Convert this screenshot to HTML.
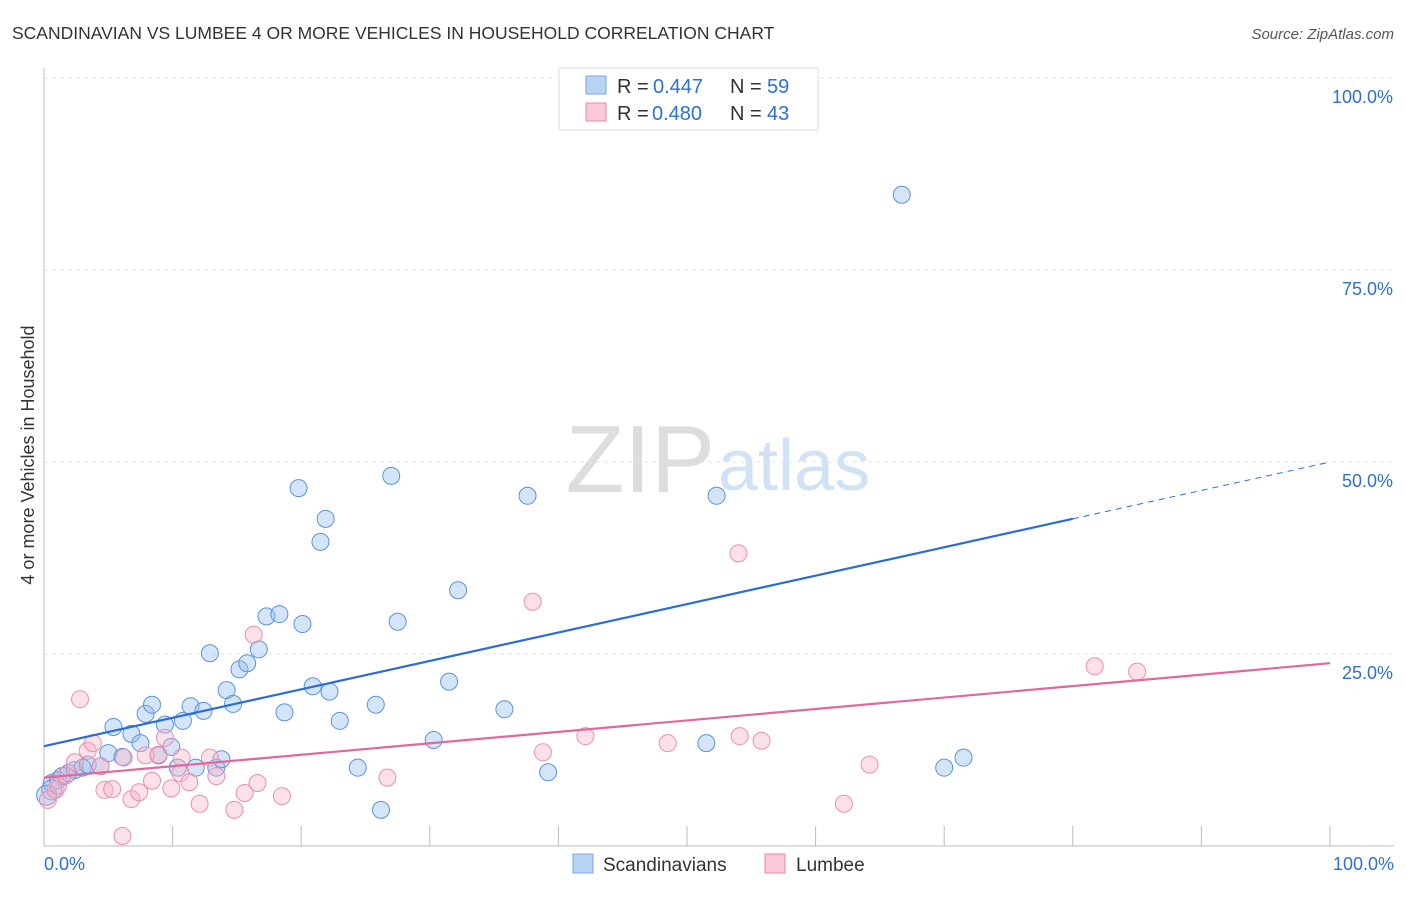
<!DOCTYPE html>
<html><head><meta charset="utf-8"><style>
body{margin:0;background:#fff;font-family:"Liberation Sans",sans-serif;}
svg text{font-family:"Liberation Sans",sans-serif;}
</style></head><body>
<svg id="chart" width="1406" height="892" viewBox="0 0 1406 892" xmlns="http://www.w3.org/2000/svg">
<text x="12" y="39" font-size="17.5" fill="#333">SCANDINAVIAN VS LUMBEE 4 OR MORE VEHICLES IN HOUSEHOLD CORRELATION CHART</text>
<text x="1394" y="39" font-size="15" fill="#555" font-style="italic" text-anchor="end">Source: ZipAtlas.com</text>
<text x="34" y="455" font-size="18" fill="#333" text-anchor="middle" transform="rotate(-90 34 455)">4 or more Vehicles in Household</text>
<text x="715" y="492" font-size="96" fill="#ddd" text-anchor="end" font-family="Liberation Serif">ZIP</text>
<text x="718" y="490" font-size="72" fill="#d2e2f5">atlas</text>
<g id="grid"></g>
<g id="pts"></g>
<g id="lines"></g>
<g>
<rect x="559" y="68" width="259" height="62" fill="#fff" stroke="#ddd"/>
<rect x="586" y="76" width="20" height="18" fill="#b9d3f5" stroke="#7aa7e0"/>
<text x="617" y="93" font-size="20" fill="#333">R =</text>
<text x="653" y="93" font-size="20" fill="#2f6fd6">0.447</text>
<text x="730" y="93" font-size="20" fill="#333">N =</text>
<text x="767" y="93" font-size="20" fill="#2f6fd6">59</text>
<rect x="586" y="103" width="20" height="18" fill="#fac8d8" stroke="#e889a8"/>
<text x="617" y="120" font-size="20" fill="#333">R =</text>
<text x="652" y="120" font-size="20" fill="#2f6fd6">0.480</text>
<text x="730" y="120" font-size="20" fill="#333">N =</text>
<text x="767" y="120" font-size="20" fill="#2f6fd6">43</text>
</g>
<g>
<rect x="573" y="854" width="20" height="19" fill="#b9d3f5" stroke="#7aa7e0"/>
<text x="603" y="871" font-size="19" fill="#333">Scandinavians</text>
<rect x="765" y="854" width="20" height="19" fill="#fac8d8" stroke="#e889a8"/>
<text x="796" y="871" font-size="19" fill="#333">Lumbee</text>
</g>
</svg>
<script>
const yTicks=[25,50,75,100];
const yTickLabels=["25.0%","50.0%","75.0%","100.0%"];
const xEndLabels=["0.0%","100.0%"];
const blueX=[0.6,1.1,1.4,1.9,2.4,3.0,3.4,4.4,5.0,5.4,6.1,6.8,7.5,7.9,8.4,8.9,9.4,9.9,10.4,10.8,11.4,11.8,12.4,12.9,13.4,13.8,14.2,14.7,15.2,15.8,16.7,17.3,18.3,18.7,19.8,20.1,20.9,21.5,21.9,22.2,23.0,24.4,25.8,26.2,27.0,27.5,30.3,31.5,32.2,35.8,37.6,39.2,51.5,52.3,66.7,70.0,71.5,0.6,0.2];
const blueY=[8.2,8.6,9.1,9.5,9.9,10.2,10.6,10.4,12.1,15.5,11.6,14.6,13.4,17.2,18.4,11.8,15.8,12.9,10.2,16.3,18.2,10.2,17.6,25.1,10.2,11.3,20.3,18.5,23.0,23.8,25.6,29.9,30.2,17.4,46.6,28.9,20.8,39.6,42.6,20.1,16.3,10.2,18.4,4.7,48.2,29.2,13.8,21.4,33.3,17.8,45.6,9.6,13.4,45.6,84.8,10.2,11.5,7.3,6.6];
const pinkX=[0.3,0.9,2.8,3.4,3.8,4.4,4.7,5.3,6.2,6.1,6.8,7.4,7.9,8.4,8.9,9.4,9.9,10.6,10.7,11.3,12.1,12.9,13.4,14.8,15.6,16.3,16.6,18.5,26.7,38.0,38.8,42.1,48.5,54.0,54.1,55.8,62.2,64.2,81.7,85.0,1.1,1.7,2.4];
const pinkY=[6.0,7.3,19.1,12.4,13.4,10.4,7.3,7.4,11.5,1.3,6.1,7.0,11.8,8.5,11.9,14.1,7.5,9.5,11.5,8.3,5.5,11.5,9.1,4.7,6.9,27.5,8.2,6.5,8.9,31.8,12.2,14.3,13.4,38.1,14.3,13.7,5.5,10.6,23.4,22.7,7.9,9.2,10.9];
const blueFit=[13.0,50.0], pinkFit=[8.9,23.8];
const X0=44,X1=1330,Y0=846,Y1=78;
const sx=v=>X0+(X1-X0)*v/100, sy=v=>Y0-(Y0-Y1)*v/100;
const NS="http://www.w3.org/2000/svg";
function mk(tag,attrs,parent){const e=document.createElementNS(NS,tag);for(const k in attrs)e.setAttribute(k,attrs[k]);parent.appendChild(e);return e;}
const grid=document.getElementById('grid');
let ax=mk('line',{x1:X0,y1:68,x2:X0,y2:Y0,stroke:'#bbb'},grid);


let bx=mk('line',{x1:X0,y1:Y0,x2:1394,y2:Y0,stroke:'#bbb'},grid);


yTicks.forEach((t,i)=>{
 const g=mk('line',{x1:X0,y1:sy(t),x2:1394,y2:sy(t),stroke:'#e4e4e4','stroke-dasharray':'4,4'},grid);
 
 
 const tx=mk('text',{x:1393,y:sy(t)+25,'font-size':18,fill:'#2f6fd6','text-anchor':'end'},grid);tx.textContent=yTickLabels[i];
 
 
});
for(let i=1;i<=10;i++){const v=i*10;const l=mk('line',{x1:sx(v),y1:826,x2:sx(v),y2:Y0,stroke:'#bbb'},grid);
 
 }
[[0,'start',44],[1,'end',1394]].forEach(([i,a,x])=>{const t=mk('text',{x:x,y:870,'font-size':18,fill:'#2f6fd6','text-anchor':a},grid);t.textContent=xEndLabels[i];
 
 });
const pts=document.getElementById('pts');
blueX.forEach((x,i)=>{const c=mk('circle',{cx:sx(x),cy:sy(blueY[i]),r:i>=57?10:8.5,fill:'rgba(150,190,240,0.4)',stroke:'#5b93dc','stroke-width':1},pts);
 
 });
pinkX.forEach((x,i)=>{const c=mk('circle',{cx:sx(x),cy:sy(pinkY[i]),r:8.5,fill:'rgba(248,180,200,0.4)',stroke:'#ec8fae','stroke-width':1},pts);
 
 });
const lines=document.getElementById('lines');
const bAt=v=>blueFit[0]+(blueFit[1]-blueFit[0])*v/100;
let bl=mk('line',{x1:sx(0),y1:sy(bAt(0)),x2:sx(80),y2:sy(bAt(80)),stroke:'#2a6dd4','stroke-width':2.2},lines);


let bd=mk('line',{x1:sx(80),y1:sy(bAt(80)),x2:sx(100),y2:sy(bAt(100)),stroke:'#2a6dd4','stroke-width':1,'stroke-dasharray':'6,5'},lines);


let pl=mk('line',{x1:sx(0),y1:sy(pinkFit[0]),x2:sx(100),y2:sy(pinkFit[1]),stroke:'#e2679a','stroke-width':2.2},lines);


</script>
</body></html>
